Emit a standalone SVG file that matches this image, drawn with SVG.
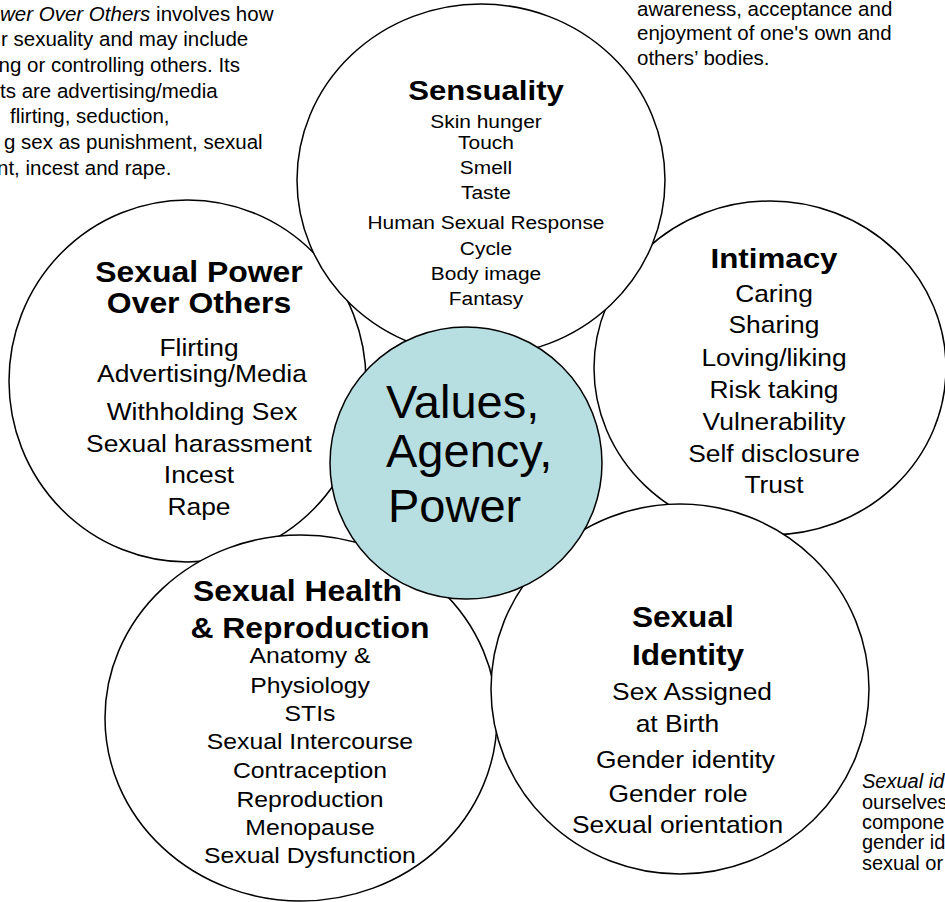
<svg xmlns="http://www.w3.org/2000/svg" width="945" height="902" viewBox="0 0 945 902">
<style>
.c{fill:#ffffff;stroke:#000;stroke-width:1.5}
.core{fill:#b7dee1;stroke:#000;stroke-width:1.5}
text{font-family:"Liberation Sans",Arial,Helvetica,sans-serif;fill:#000}
.h{font-weight:bold;text-anchor:middle}
.m{text-anchor:middle}
.p{font-size:20.5px}
</style>
<rect width="945" height="902" fill="#ffffff"/>
<g id="connectors"></g>

<g id="intimacy">
<ellipse class="c" cx="770" cy="368" rx="176" ry="167"/>
<g transform="translate(774 0) scale(1.1 1)">
<text class="h" x="0" y="268" font-size="28.5">Intimacy</text>
<g class="m" font-size="24">
<text x="0" y="302">Caring</text>
<text x="0" y="333">Sharing</text>
<text x="0" y="366">Loving/liking</text>
<text x="0" y="398">Risk taking</text>
<text x="0" y="430">Vulnerability</text>
<text x="0" y="462">Self disclosure</text>
<text x="0" y="493">Trust</text>
</g>
</g>
</g>

<g id="power">
<ellipse class="c" cx="187.5" cy="381" rx="178.5" ry="181"/>
<g transform="translate(199 0) scale(1.1 1)">
<text class="h" x="0" y="282" font-size="29">Sexual Power</text>
<text class="h" x="0" y="313" font-size="29">Over Others</text>
<g class="m" font-size="24">
<text x="0" y="356">Flirting</text>
<text x="2.7" y="382">Advertising/Media</text>
<text x="2.7" y="420">Withholding Sex</text>
<text x="0" y="452">Sexual harassment</text>
<text x="0" y="483">Incest</text>
<text x="0" y="515">Rape</text>
</g>
</g>
</g>

<g id="health">
<ellipse class="c" cx="301" cy="718" rx="196" ry="183"/>
<g transform="translate(310 0) scale(1.1 1)">
<text class="h" x="-11.4" y="601" font-size="29">Sexual Health</text>
<text class="h" x="0" y="638" font-size="29">&amp; Reproduction</text>
<g class="m" font-size="22.5">
<text x="0" y="663">Anatomy &amp;</text>
<text x="0" y="693">Physiology</text>
<text x="0" y="721">STIs</text>
<text x="0" y="749">Sexual Intercourse</text>
<text x="0" y="778">Contraception</text>
<text x="0" y="807">Reproduction</text>
<text x="0" y="835">Menopause</text>
<text x="0" y="863">Sexual Dysfunction</text>
</g>
</g>
</g>

<g id="identity">
<ellipse class="c" cx="680" cy="689" rx="189" ry="185"/>
<g transform="translate(683 0) scale(1.1 1)">
<text x="-46.4" y="627" font-size="28.7" font-weight="bold">Sexual</text>
<text x="-46.4" y="665" font-size="28.7" font-weight="bold">Identity</text>
<g class="m" font-size="24">
<text x="8.2" y="700">Sex Assigned</text>
<text x="-5" y="732">at Birth</text>
<text x="2.3" y="768">Gender identity</text>
<text x="-4.5" y="802">Gender role</text>
<text x="-5" y="833">Sexual orientation</text>
</g>
</g>
</g>

<g id="sensuality">
<ellipse class="c" cx="481" cy="180" rx="184" ry="176"/>
<g transform="translate(486 0) scale(1.1 1)">
<text class="h" x="0" y="100" font-size="28.3">Sensuality</text>
<g class="m" font-size="19">
<text x="0" y="128">Skin hunger</text>
<text x="0" y="149">Touch</text>
<text x="0" y="174">Smell</text>
<text x="0" y="199">Taste</text>
<text x="0" y="229">Human Sexual Response</text>
<text x="0" y="255">Cycle</text>
<text x="0" y="280">Body image</text>
<text x="0" y="305">Fantasy</text>
</g>
</g>
</g>

<g id="core">
<circle class="core" cx="466" cy="463" r="136"/>
<g font-size="47">
<text x="386" y="418">Values,</text>
<text x="386" y="467">Agency,</text>
<text x="388" y="522">Power</text>
</g>
</g>

<g id="note-power" class="p">
<text x="0" y="20.7"><tspan font-style="italic">wer Over Others</tspan> involves how</text>
<text x="1" y="46.3">r sexuality and may include</text>
<text x="-1.5" y="72">ng or controlling others. Its</text>
<text x="0" y="97.7">ts are advertising/media</text>
<text x="10" y="123.3">flirting, seduction,</text>
<text x="4" y="149">g sex as punishment, sexual</text>
<text x="-3" y="174.7">nt, incest and rape.</text>
</g>

<g id="note-sensuality" class="p">
<text x="637" y="15.7">awareness, acceptance and</text>
<text x="637" y="40.3">enjoyment of one's own and</text>
<text x="637" y="65">others’ bodies.</text>
</g>

<g id="note-identity" font-size="20">
<text x="862" y="788.3" font-style="italic">Sexual id</text>
<text x="862" y="809">ourselves</text>
<text x="862" y="829.3">compone</text>
<text x="862" y="849.3">gender id</text>
<text x="862" y="870">sexual or</text>
</g>
</svg>
